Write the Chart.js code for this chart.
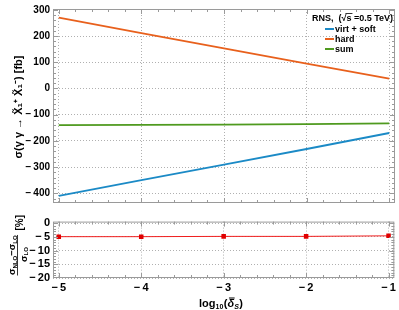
<!DOCTYPE html>
<html>
<head>
<meta charset="utf-8">
<script src="https://cdn.jsdelivr.net/npm/chart.js@4/dist/chart.umd.min.js"></script>
<style>
  body { margin: 0; background: #fff; }
  #wrap { position: relative; width: 399px; height: 310px; }
  #top { position: absolute; left: 0; top: 0; }
  #bot { position: absolute; left: 0; top: 212px; }
</style>
</head>
<body>
<div id="wrap">
  <canvas id="top" width="399" height="212"></canvas>
  <canvas id="bot" width="399" height="98"></canvas>
</div>
<script>
// data
const logDelta = [-5, -4, -3, -2, -1];
const virtSoft = [-410, -350, -291, -231, -170];
const hard = [270, 211, 153, 95, 37];
const sum = [-140, -139, -138, -136, -133];
const relDiff = [-4.9, -4.9, -4.8, -4.8, -4.6];

const xTicks = [-5, -4, -3, -2, -1];
const yTicksTop = [300, 200, 100, 0, -100, -200, -300, -400];
const yTicksBot = [0, -5, -10, -15, -20];

const seriesNames = ['virt + soft', 'hard', 'sum'];
const seriesColors = ['#1b8ac6', '#e8601c', '#4f9a1f'];
const legendTitle = 'RNS,  (\u221As =0.5 TeV)';

const FONT = '"Liberation Sans", Arial, sans-serif';
const minus = v => (v < 0 ? '\u2212\u2009' + Math.abs(v) : String(v));

// frame with minor/major ticks, Mathematica style
const framePlugin = {
    id: 'frame',
    afterDraw(chart, args, opts) {
        const ctx = chart.ctx;
        const a = chart.chartArea;
        const xs = chart.scales.x, ys = chart.scales.y;
        ctx.save();
        ctx.strokeStyle = '#9a9a9a';
        ctx.lineWidth = 1;
        ctx.strokeRect(a.left + 0.5, a.top + 0.5, a.right - a.left - 1, a.bottom - a.top - 1);
        ctx.beginPath();
        for (let v = -5; v <= -1.0001 + 0.2; v += 0.2) {
            const px = Math.round(xs.getPixelForValue(v)) + 0.5;
            if (px < a.left || px > a.right) continue;
            const major = Math.abs(v - Math.round(v)) < 1e-6;
            const len = major ? 5 : 3;
            ctx.moveTo(px, a.bottom); ctx.lineTo(px, a.bottom - len);
            ctx.moveTo(px, a.top); ctx.lineTo(px, a.top + len);
        }
        const step = opts.minor;
        for (let v = opts.from; v <= opts.to; v += step) {
            const py = Math.round(ys.getPixelForValue(v)) + 0.5;
            if (py < a.top || py > a.bottom) continue;
            const major = Math.abs(v / opts.major - Math.round(v / opts.major)) < 1e-6;
            const len = major ? 5 : 3;
            ctx.moveTo(a.left, py); ctx.lineTo(a.left + len, py);
            ctx.moveTo(a.right, py); ctx.lineTo(a.right - len, py);
        }
        ctx.stroke();
        ctx.restore();
    }
};

// legend inside the top panel
const legendPlugin = {
    id: 'innerLegend',
    afterDatasetsDraw(chart) {
        const ctx = chart.ctx;
        ctx.save();
        ctx.fillStyle = '#000';
        ctx.font = 'bold 9px ' + FONT;
        ctx.textBaseline = 'middle';
        ctx.textAlign = 'left';
        ctx.fillText(legendTitle, 312, 19);
        // overbar for the square root
        const w0 = ctx.measureText('RNS,  (\u221A').width;
        const w1 = ctx.measureText('RNS,  (\u221As').width;
        ctx.strokeStyle = '#000';
        ctx.lineWidth = 0.8;
        ctx.beginPath();
        ctx.moveTo(312 + w0 - 1, 13.5); ctx.lineTo(312 + w1 + 1, 13.5);
        ctx.stroke();
        chart.data.datasets.forEach((ds, i) => {
            const y = 29 + i * 10;
            ctx.strokeStyle = ds.borderColor;
            ctx.lineWidth = 2;
            ctx.beginPath();
            ctx.moveTo(325, y); ctx.lineTo(334, y);
            ctx.stroke();
            ctx.fillStyle = '#000';
            ctx.fillText(ds.label, 335, y + 0.5);
        });
        ctx.restore();
    }
};

const topTitlePlugin = {
    id: 'topTitle',
    afterDraw(chart) {
        const ctx = chart.ctx;
        ctx.save();
        ctx.translate(19, 107);
        ctx.rotate(-Math.PI / 2);
        ctx.fillStyle = '#000';
        ctx.font = 'bold 11px ' + FONT;
        ctx.textAlign = 'center';
        ctx.textBaseline = 'middle';
        ctx.fillText('\u03C3(\u03B3 \u03B3 \u2192 X\u0303\u2081\u207A X\u0303\u2081\u207B) [fb]', 0, 0);
        ctx.restore();
    }
};

const botTitlePlugin = {
    id: 'botTitle',
    afterDraw(chart) {
        const ctx = chart.ctx;
        ctx.save();
        ctx.fillStyle = '#000';
        ctx.strokeStyle = '#000';
        // fraction (sigma_NLO - sigma_LO) / sigma_LO, rotated
        ctx.translate(17, 46);
        ctx.rotate(-Math.PI / 2);
        ctx.textBaseline = 'alphabetic';
        const drawSig = (x, y, sub) => {
            ctx.font = 'bold 9.5px ' + FONT;
            ctx.fillText('\u03C3', x, y);
            x += ctx.measureText('\u03C3').width;
            ctx.font = 'bold 6px ' + FONT;
            ctx.fillText(sub, x, y + 1.5);
            return x + ctx.measureText(sub).width;
        };
        ctx.textAlign = 'left';
        let x = -17;
        x = drawSig(x, -2, 'NLO');
        ctx.font = 'bold 9.5px ' + FONT;
        ctx.fillText('\u2212', x, -2);
        x += ctx.measureText('\u2212').width;
        x = drawSig(x, -2, 'LO');
        ctx.lineWidth = 0.8;
        ctx.beginPath();
        ctx.moveTo(-17.5, 0.5); ctx.lineTo(x + 0.5, 0.5);
        ctx.stroke();
        drawSig(-4, 9.5, 'LO');
        ctx.font = 'bold 10px ' + FONT;
        ctx.fillText('[%]', x + 5, 6);
        ctx.restore();

        // x axis title
        ctx.save();
        ctx.fillStyle = '#000';
        ctx.textBaseline = 'alphabetic';
        ctx.textAlign = 'left';
        let px = 199, py = 95;
        ctx.font = 'bold 11px ' + FONT;
        ctx.fillText('log', px, py); px += ctx.measureText('log').width;
        ctx.font = 'bold 7px ' + FONT;
        ctx.fillText('10', px, py + 2); px += ctx.measureText('10').width + 0.5;
        ctx.font = 'bold 11px ' + FONT;
        ctx.fillText('(', px, py); px += ctx.measureText('(').width;
        ctx.font = 'italic bold 11px ' + FONT;
        ctx.fillText('\u03B4', px, py);
        const dw = ctx.measureText('\u03B4').width;
        ctx.fillRect(px + 1.5, py - 9.5, dw - 1, 1);
        px += dw;
        ctx.font = 'italic bold 7px ' + FONT;
        ctx.fillText('S', px, py + 2); px += ctx.measureText('S').width + 0.5;
        ctx.font = 'bold 11px ' + FONT;
        ctx.fillText(')', px, py);
        ctx.restore();
    }
};

const gridStyle = {
    color: '#b0b0b0',
    lineWidth: 1,
    drawTicks: false
};
// in v4 the dash of grid lines lives in border.dash
const borderStyle = { display: false, dash: [1, 2] };

new Chart(document.getElementById('top'), {
    type: 'line',
    data: {
        datasets: [
            { label: seriesNames[0], data: logDelta.map((x, i) => ({ x, y: virtSoft[i] })), borderColor: seriesColors[0] },
            { label: seriesNames[1], data: logDelta.map((x, i) => ({ x, y: hard[i] })), borderColor: seriesColors[1] },
            { label: seriesNames[2], data: logDelta.map((x, i) => ({ x, y: sum[i] })), borderColor: seriesColors[2] }
        ]
    },
    options: {
        responsive: false,
        animation: false,
        layout: { padding: { top: 3, right: 4, bottom: 5, left: 0 } },
        elements: { point: { radius: 0 }, line: { borderWidth: 1.8, tension: 0 } },
        plugins: {
            legend: { display: false },
            tooltip: { enabled: false },
            frame: { minor: 20, major: 100, from: -440, to: 300 }
        },
        scales: {
            x: {
                type: 'linear',
                min: -5.07,
                max: -0.93,
                afterBuildTicks: s => { s.ticks = xTicks.map(v => ({ value: v })); },
                ticks: { display: false },
                border: borderStyle,
                grid: gridStyle,
                afterFit: s => { s.height = 0; }
            },
            y: {
                min: -437,
                max: 303,
                afterBuildTicks: s => { s.ticks = yTicksTop.map(v => ({ value: v })); },
                ticks: {
                    color: '#000',
                    autoSkip: false,
                    font: { family: FONT, size: 10, weight: 'bold' },
                    padding: 3,
                    callback: v => minus(v)
                },
                border: borderStyle,
                grid: gridStyle,
                afterFit: s => { s.width = 53; }
            }
        }
    },
    plugins: [framePlugin, legendPlugin, topTitlePlugin]
});

new Chart(document.getElementById('bot'), {
    type: 'line',
    data: {
        datasets: [{
            label: 'ratio',
            data: logDelta.map((x, i) => ({ x, y: relDiff[i] })),
            borderColor: '#f01e1e',
            backgroundColor: '#e00000',
            borderWidth: 1,
            pointStyle: 'rect',
            pointRadius: 3.2,
            pointBorderWidth: 0
        }]
    },
    options: {
        responsive: false,
        animation: false,
        layout: { padding: { top: 1, right: 4, bottom: 0, left: 0 } },
        elements: { line: { tension: 0 } },
        plugins: {
            legend: { display: false },
            tooltip: { enabled: false },
            frame: { minor: 1, major: 5, from: -20, to: 0.6 }
        },
        scales: {
            x: {
                type: 'linear',
                min: -5.07,
                max: -0.93,
                afterBuildTicks: s => { s.ticks = xTicks.map(v => ({ value: v })); },
                ticks: {
                    color: '#000',
                    autoSkip: false,
                    font: { family: FONT, size: 11, weight: 'bold' },
                    padding: 3,
                    maxRotation: 0,
                    callback: v => minus(v)
                },
                border: borderStyle,
                grid: gridStyle,
                afterFit: s => { s.height = 32; }
            },
            y: {
                min: -20,
                max: 0.6,
                afterBuildTicks: s => { s.ticks = yTicksBot.map(v => ({ value: v })); },
                ticks: {
                    color: '#000',
                    autoSkip: false,
                    font: { family: FONT, size: 11, weight: 'bold' },
                    padding: 3,
                    callback: v => minus(v)
                },
                border: borderStyle,
                grid: gridStyle,
                afterFit: s => { s.width = 53; }
            }
        }
    },
    plugins: [framePlugin, botTitlePlugin]
});
</script>
</body>
</html>
